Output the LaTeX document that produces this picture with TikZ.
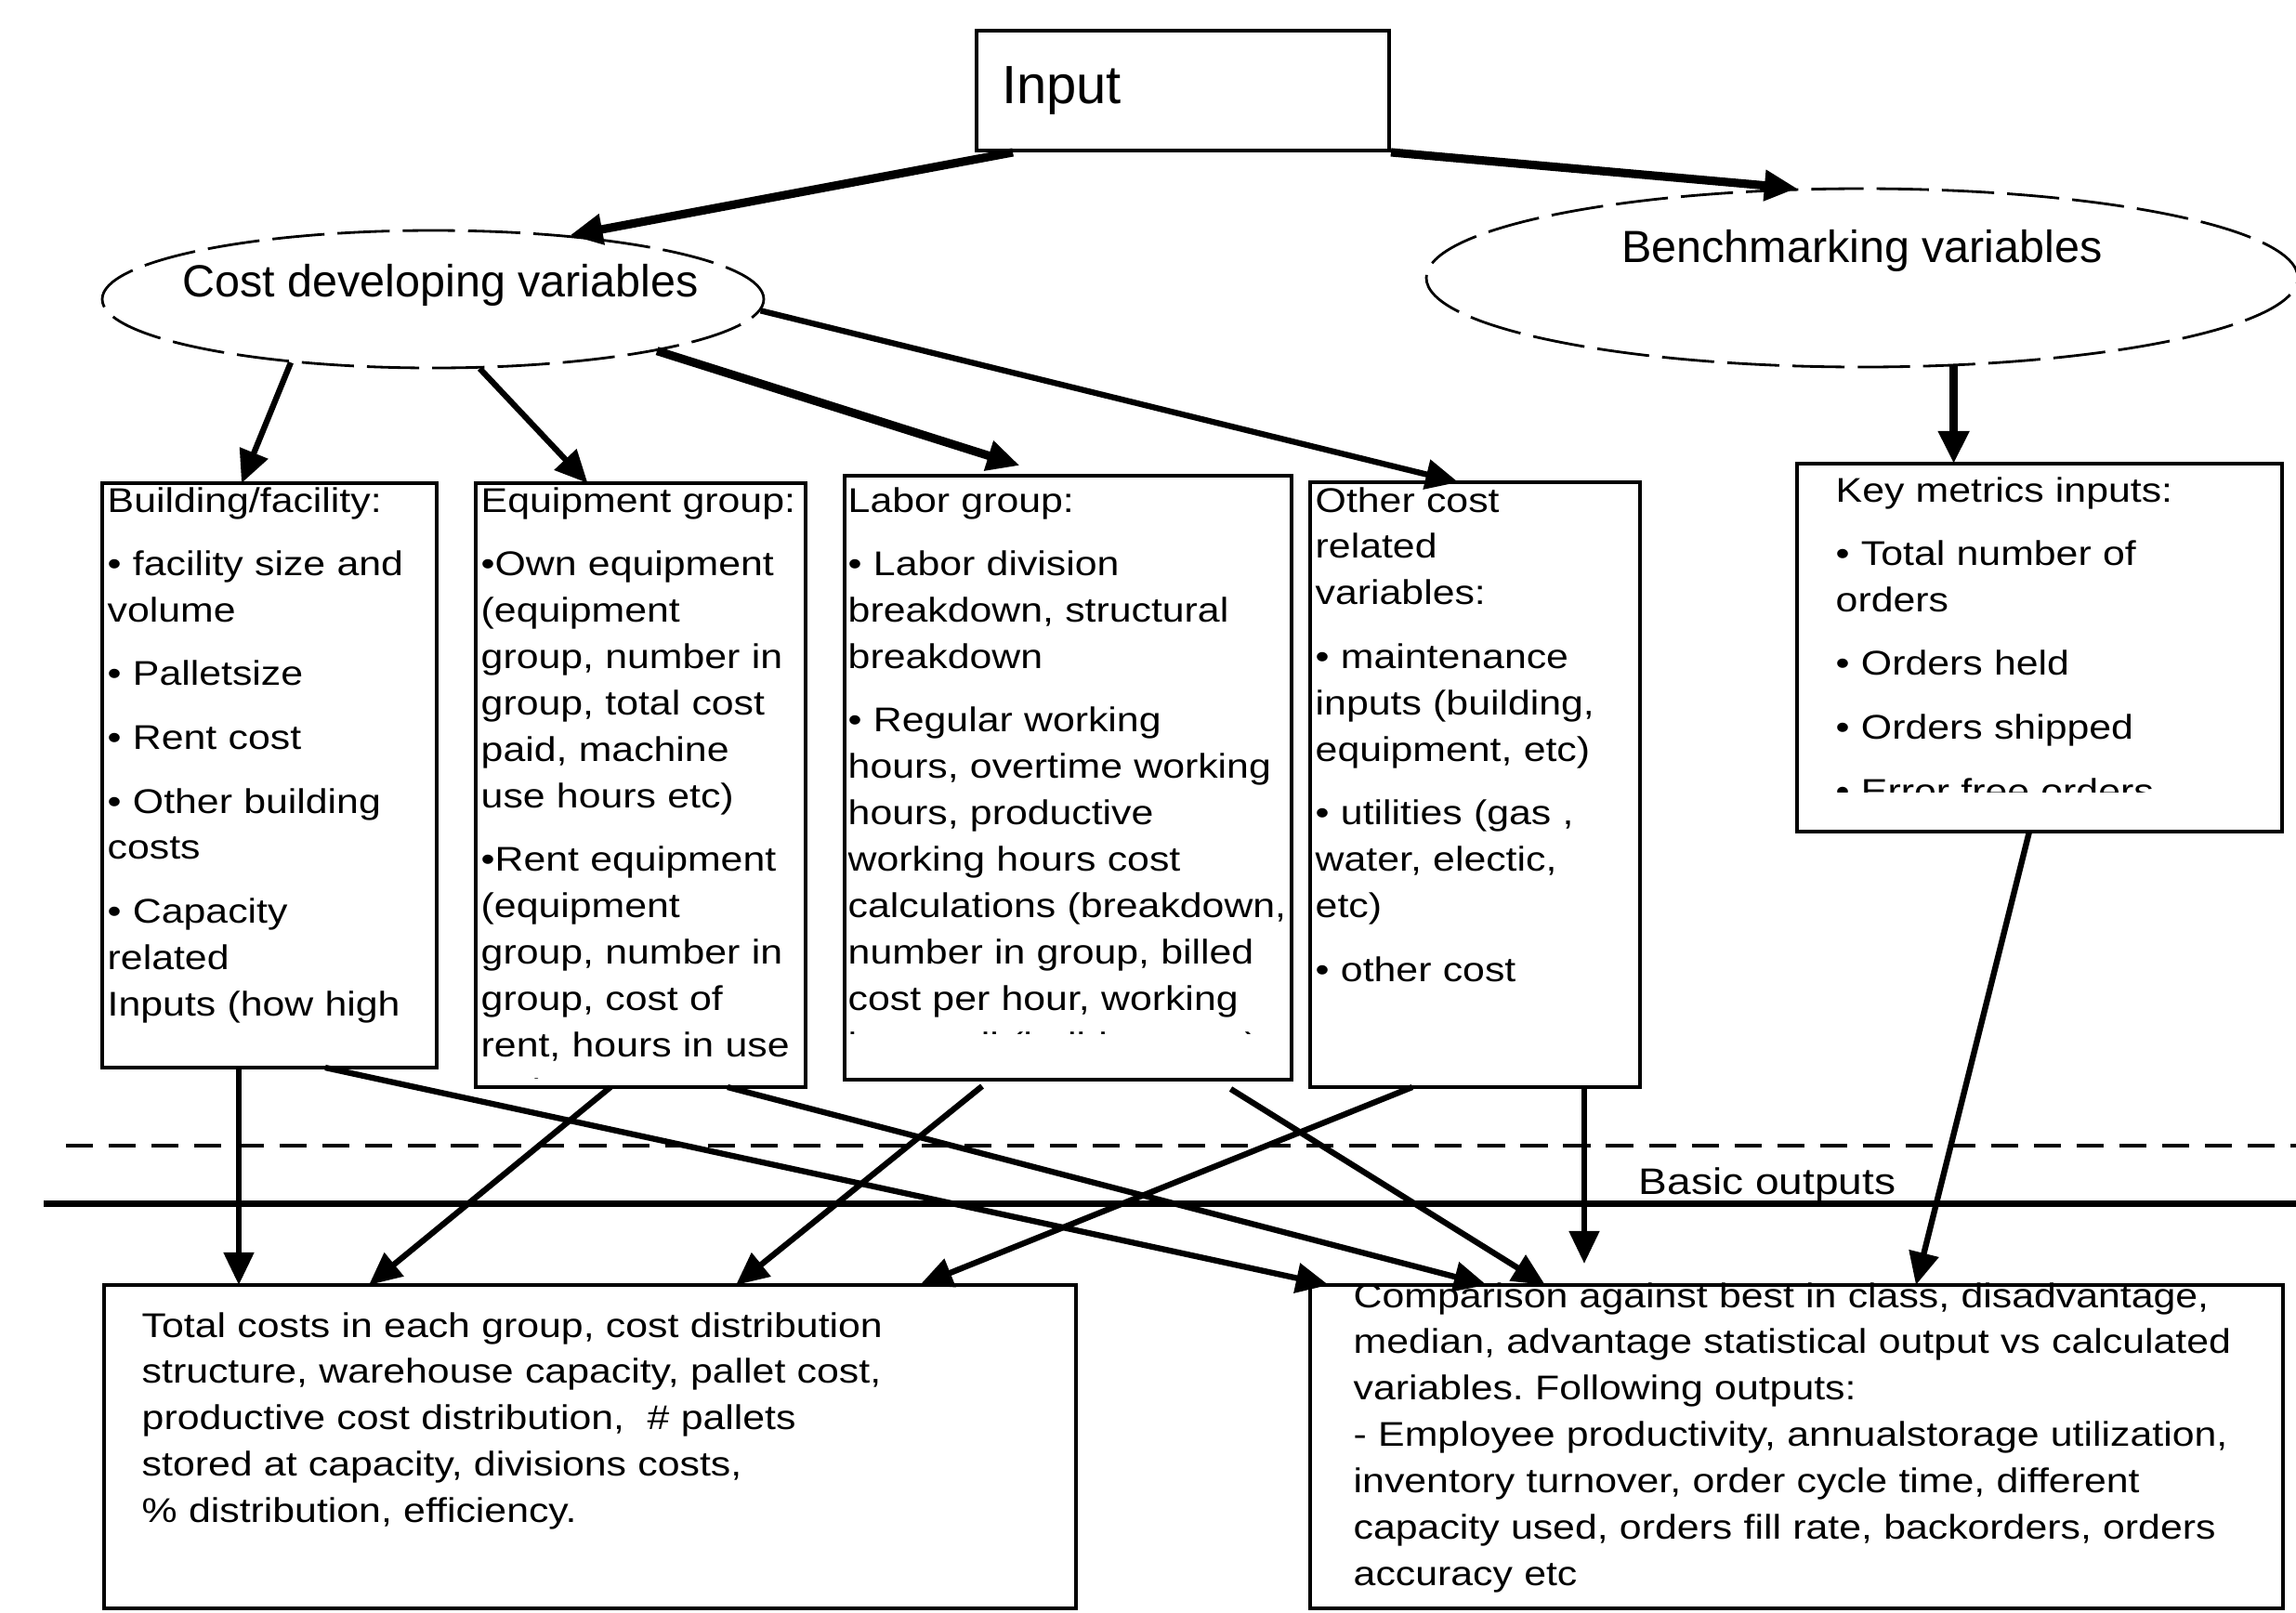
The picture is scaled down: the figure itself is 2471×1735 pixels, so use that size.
\documentclass[tikz,border=0pt]{standalone}
\usepackage{fontspec}
\setmainfont{Liberation Sans}
\newfontfamily\boxfont[FakeStretch=1.16]{Liberation Sans}
\usepackage{tikz}
\usetikzlibrary{positioning,shapes.geometric,arrows.meta}
\frenchspacing
\tikzset{node distance=4.2mm,
  grp/.style={draw, line width=1.1pt, inner sep=0pt, outer sep=0pt, anchor=north west},
  ell/.style={draw, ellipse, line width=0.8pt, dash pattern=on 16pt off 4pt, inner sep=0pt},
  elltxt/.style={font=\fontsize{13.8}{16}\selectfont, inner sep=0pt},
  txt/.style={font=\boxfont\fontsize{10.5}{14.2}\selectfont, align=left, text width=110mm, inner sep=0pt, anchor=base west},
  arr/.style={-{Triangle[length=10pt,width=9pt]}, line width=1.8pt},
  bigarr/.style={arr, line width=2.6pt}}

\begin{document}
\begin{tikzpicture}[x=0.1mm, y=-0.1mm]
\useasboundingbox (0,0) rectangle (2471,1735);

\node[draw, line width=1.1pt, minimum height=12.9mm, text width=39mm, inner xsep=2.7mm, align=left, font=\fontsize{16.5}{18}\selectfont] (input) at (1273,97.5) {Input};

\node[ell, minimum width=71.2mm, minimum height=14.8mm] (cost) at (466,322) {};
\node[elltxt] (costlbl) at ([xshift=0.8mm,yshift=1.5mm]cost.center) {Cost developing variables};
\node[ell, minimum width=93.8mm, minimum height=19.2mm] (bench) at (2004,299) {};
\node[elltxt] (benchlbl) at ([yshift=2.9mm]bench.center) {Benchmarking variables};

\node[grp, minimum width=36mm, minimum height=62.9mm] (bld) at (110,520) {};
\node[grp, minimum width=35.5mm, minimum height=65mm, right=of bld.north east, anchor=north west] (equ) {};
\node[grp, minimum width=48.1mm, minimum height=65mm, right=of equ.north east, anchor=north west, yshift=0.8mm] (lab) {};
\node[grp, minimum width=35.5mm, minimum height=65.1mm, right=2mm of lab.north east, anchor=north west, yshift=-0.7mm] (oth) {};
\node[grp, minimum width=52.2mm, minimum height=39.6mm, right=16.9mm of oth.north east, anchor=north west, yshift=2mm] (key) {};
\node[grp, minimum width=104.6mm, minimum height=34.8mm] (tot) at (112,1383) {};
\node[grp, minimum width=104.7mm, minimum height=34.8mm, right=25.2mm of tot.north east, anchor=north west] (cmp) {};

\begin{scope}
\clip (bld.north west) rectangle (bld.south east);
\node[txt] (bldtxt) at ([xshift=0.5mm,yshift=-3.1mm]bld.north west) {Building/facility:\\[5.3pt]
• facility size and\\ volume\\[5.3pt]
• Palletsize\\[5.3pt]
• Rent cost\\[5.3pt]
• Other building\\ costs\\[5.3pt]
• Capacity\\ related\\ Inputs (how high};
\end{scope}
\begin{scope}
\clip (equ.north west) rectangle ([yshift=1mm]equ.south east);
\node[txt] (equtxt) at ([xshift=0.5mm,yshift=-3.1mm]equ.north west) {Equipment group:\\[5.3pt]
•Own equipment\\ (equipment\\ group, number in\\ group, total cost\\ paid, machine\\ use hours etc)\\[5.3pt]
•Rent equipment\\ (equipment\\ group, number in\\ group, cost of\\ rent, hours in use\\ etc)};
\end{scope}
\begin{scope}
\clip (lab.north west) rectangle ([yshift=5mm]lab.south east);
\node[txt] (labtxt) at ([xshift=0.3mm,yshift=-3.9mm]lab.north west) {Labor group:\\[5.3pt]
• Labor division\\ breakdown, structural\\ breakdown\\[5.3pt]
• Regular working\\ hours, overtime working\\ hours, productive\\ working hours cost\\ calculations (breakdown,\\ number in group, billed\\ cost per hour, working\\ hours all (holidays, etc)};
\end{scope}
\begin{scope}
\clip (oth.north west) rectangle (oth.south east);
\node[txt] (othtxt) at ([xshift=0.5mm,yshift=-3.2mm]oth.north west) {Other cost\\ related\\ variables:\\[5.3pt]
• maintenance\\ inputs (building,\\ equipment, etc)\\[5.3pt]
• utilities (gas ,\\ water, electic,\\ etc)\\[5.3pt]
• other cost};
\end{scope}
\begin{scope}
\clip (key.north west) rectangle ([yshift=4.3mm]key.south east);
\node[txt] (keytxt) at ([xshift=4.1mm,yshift=-4.1mm]key.north west) {Key metrics inputs:\\[5.3pt]
• Total number of\\ orders\\[5.3pt]
• Orders held\\[5.3pt]
• Orders shipped\\[5.3pt]
• Error free orders};
\end{scope}

\node[txt] (tottxt) at ([xshift=4mm,yshift=-5.6mm]tot.north west) {Total costs in each group, cost distribution\\
structure, warehouse capacity, pallet cost,\\
productive cost distribution,\ \ \# pallets\\
stored at capacity, divisions costs,\\
\% distribution, efficiency.};
\node[txt] (cmptxt) at ([xshift=4.6mm,yshift=-2.4mm]cmp.north west) {Comparison against best in class, disadvantage,\\
median, advantage statistical output vs calculated\\
variables. Following outputs:\\
- Employee productivity, annualstorage utilization,\\
inventory turnover, order cycle time, different\\
capacity used, orders fill rate, backorders, orders\\
accuracy etc};

\draw [line width=1.1pt, dash pattern=on 8.3pt off 4.8pt] (71,1233) -- (2480,1233);
\draw [line width=2pt] (47,1295) -- (2480,1295);
\node[anchor=base west, inner sep=0pt, font=\boxfont\fontsize{11.3}{13}\selectfont] (basic) at (1763,1285) {Basic outputs};

\draw [bigarr] ([xshift=4.1mm]input.south west) to (cost.25.7);
\draw [bigarr] (input.south east) to (bench.126.4);
\draw [arr] (cost.204.5) to ([xshift=-3mm]bld.north);
\draw [arr] (cost.-56.7) to ([xshift=-5.7mm]equ.north);
\draw [bigarr] (cost.-13) to ([xshift=-5.2mm,yshift=1.1mm]lab.north);
\draw [arr] (cost.-2) to ([xshift=-1.8mm]oth.north);
\draw [bigarr] (bench.-44.1) to (bench.-44.1 |- key.north);

\coordinate (bldout) at ([xshift=-3.3mm]bld.south);
\coordinate (othout) at ([xshift=11.75mm]oth.south);
\draw [arr] (bldout) to (bldout |- tot.north);
\draw [arr] ([xshift=6mm]bld.south) to ([xshift=2mm]cmp.north west);
\draw [arr] ([xshift=-3.25mm]equ.south) to ([xshift=28.5mm]tot.north west);
\draw [arr] ([xshift=9.35mm]equ.south) to ([xshift=19mm]cmp.north west);
\draw [arr] ([xshift=-9.25mm,yshift=-0.7mm]lab.south) to ([xshift=68mm]tot.north west);
\draw [arr] ([xshift=17.5mm,yshift=-1mm]lab.south) to ([xshift=25.3mm]cmp.north west);
\draw [arr] ([xshift=-6.75mm]oth.south) to ([xshift=87.8mm]tot.north west);
\draw [arr, shorten >=2.3mm] (othout) to (othout |- cmp.north);
\draw [arr] ([xshift=-1.1mm]key.south) to ([xshift=65.2mm]cmp.north west);
\end{tikzpicture}
\end{document}
